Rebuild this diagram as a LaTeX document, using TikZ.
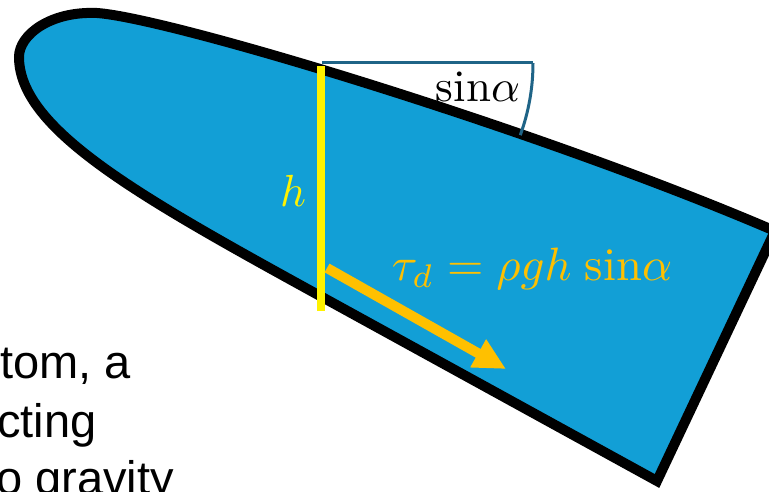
\documentclass[tikz,border=0pt]{standalone}
\usepackage{amsmath}
\usepackage{fontspec}
\newfontfamily\slidefont{Liberation Sans}
\usepackage{xcolor}
\usetikzlibrary{arrows.meta}
\definecolor{iceblue}{RGB}{18,159,214}
\definecolor{angleblue}{RGB}{31,100,135}
\definecolor{stressorange}{RGB}{255,192,0}

\begin{document}
\begin{tikzpicture}[x=1pt,y=-1pt,
  ice/.style={draw=black,line width=10pt,fill=iceblue},
  thickness/.style={draw=yellow,line width=8pt},
  anglemark/.style={draw=angleblue,line width=3pt},
  stressarrow/.style={draw=stressorange,line width=10pt,-{Triangle[length=32pt,width=30pt]}},
  mathlbl/.style={inner sep=0pt,anchor=base,scale=4.5},
  sidetext/.style={inner sep=0pt,anchor=base west,font=\slidefont\fontsize{47}{56}\selectfont}]
\useasboundingbox (0,0) rectangle (769,492);
% glacier body
\draw[ice] (657,481) -- (322,297)
  .. controls (142,198) and (19,130) .. (19,57)
  .. controls (19,35) and (50,11) .. (97,13)
  .. controls (170,18) and (540,130) .. (775,231) -- cycle;
% ice thickness
\coordinate (surf) at (321,66);
\coordinate (bed) at (321,311);
\draw[thickness] (surf) -- (bed);
\node[mathlbl,text=yellow] (hLabel) at (293,207) {$h$};
% surface slope
\coordinate (apex) at (322,63);
\coordinate (level) at (533,63);
\draw[anglemark] (apex) -- (level);
\draw[anglemark] (level) arc[start angle=0,end angle=20,radius=211];
\node[mathlbl,text=black] (sinLabel) at (478,102) {$\mathrm{sin}\alpha$};
% driving stress
\coordinate (tauTail) at (327,268);
\coordinate (tauTip) at (506,369);
\draw[stressarrow] (tauTail) -- (tauTip);
\node[mathlbl,text=stressorange,scale=1.04] (tauLabel) at (532,280) {$\tau_d = \rho g h\;\mathrm{sin}\alpha$};
% cut-off slide text
\node[sidetext] (lineA) at (0,378) {tom, a};
\node[sidetext] (lineB) at (-3,437) {cting};
\node[sidetext] (lineC) at (-4,494) {o gravity};
\end{tikzpicture}
\end{document}
